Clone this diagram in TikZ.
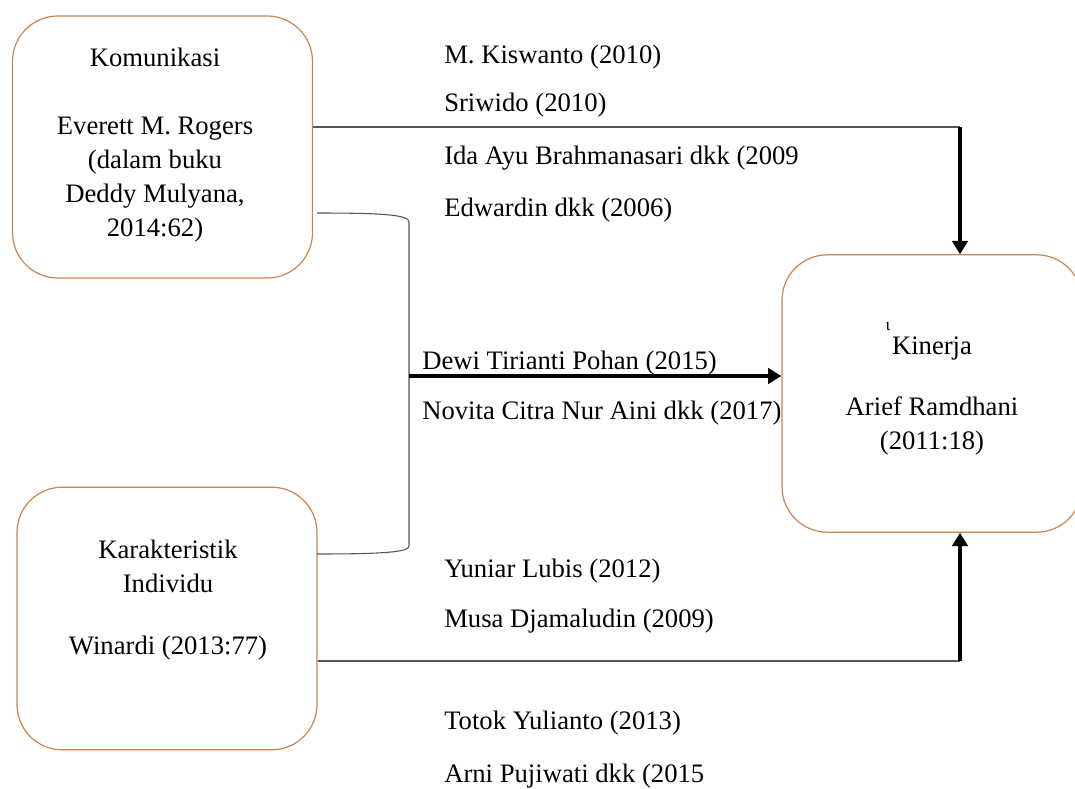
\documentclass[tikz,border=0pt]{standalone}
\usepackage{fontspec}
\setmainfont{Liberation Serif}
\usetikzlibrary{arrows.meta,positioning}
\definecolor{boxOrange}{HTML}{C98550}
\definecolor{lineGray}{HTML}{555555}

\begin{document}
\begin{tikzpicture}[x=0.75pt, y=-0.75pt,
  font=\fontsize{20}{25.5}\selectfont,
  box/.style={draw=boxOrange, line width=0.9pt, rounded corners=34pt, minimum width=225pt, inner sep=0pt},
  boxtext/.style={align=center, inner sep=0pt},
  ref/.style={anchor=west, inner sep=0pt},
  lnk/.style={-, line width=0.8pt, draw=lineGray},
  arr/.style={line width=2.5pt, -{Triangle[length=10pt, width=11.5pt]}}]
\useasboundingbox (0,0) rectangle (1075,789);
% boxes
\node[box, minimum height=196.5pt] (kom) at (162.5,147) {};
\node[box, minimum height=197pt] (kar) at (167,618.5) {};
\node[box, minimum height=208pt] (kin) at (932,393.5) {};
\node[boxtext] (komtext) at (155,145) {Komunikasi\\[26pt]Everett M. Rogers\\(dalam buku\\Deddy Mulyana,\\2014:62)};
\node[boxtext] (kartext) at (168,600) {Karakteristik\\Individu\\[21pt]Winardi (2013:77)};
\node[boxtext] (kintext) at (932,396) {Kinerja\\[20pt]Arief Ramdhani\\(2011:18)};
\node[inner sep=0pt, font=\fontsize{13}{13}\selectfont] (kinmark) at (888,327) {ι};
% references
\node[ref] (kiswanto) at (444,57) {M. Kiswanto (2010)};
\node[ref] (sriwido) at (444,105) {Sriwido (2010)};
\node[ref] (brahmana) at (444,158) {Ida Ayu Brahmanasari dkk (2009};
\node[ref] (edwardin) at (444,210) {Edwardin dkk (2006)};
\node[ref] (pohan) at (422,363) {Dewi Tirianti Pohan (2015)};
\node[ref] (aini) at (422,413) {Novita Citra Nur Aini dkk (2017)};
\node[ref] (lubis) at (444,571) {Yuniar Lubis (2012)};
\node[ref] (djamaludin) at (444,621) {Musa Djamaludin (2009)};
\node[ref] (yulianto) at (444,723) {Totok Yulianto (2013)};
\node[ref] (pujiwati) at (444,776) {Arni Pujiwati dkk (2015};
% connectors
\coordinate (topjoint) at (960,127);
\coordinate (botjoint) at (960,661);
\coordinate (komhook) at (317,213);
\coordinate (karhook) at (317,554);
\coordinate (brk) at (409,376);
\draw[lnk] (kom.east |- topjoint) -- (topjoint);
\draw[arr] (topjoint) -- (topjoint |- kin.north);
\draw[lnk] (kar.east |- botjoint) -- (botjoint);
\draw[arr] (botjoint) -- (botjoint |- kin.south);
\draw[lnk] (komhook) .. controls (385,213) and (409,215) .. (409,222) -- (409,546)
   .. controls (409,552) and (385,554) .. (karhook);
\draw[arr] (brk) -- (brk -| kin.west);
\end{tikzpicture}
\end{document}
